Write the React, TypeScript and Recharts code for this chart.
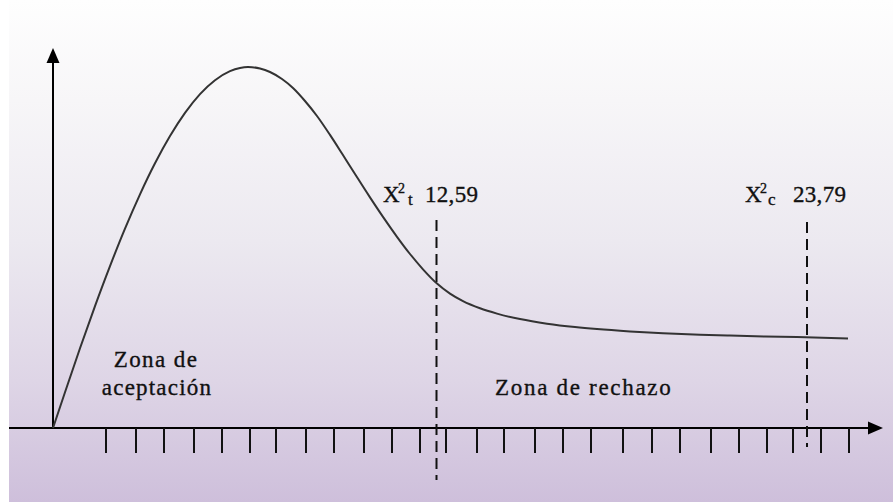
import React from 'react';
import { LineChart, Line, XAxis, YAxis, ReferenceLine, ReferenceDot } from 'recharts';

// Chi-square density sketch (schematic units)
const curveX = [0, 1.2, 2.7, 4.2, 5.7, 7.2, 8.7, 10.2, 11.7, 13.2, 14.7, 16.2, 17.7, 18.7, 19.5, 20.7, 21.7, 22.9, 24.0, 25.2, 26.4, 27.7, 28.9, 30.2, 31.7, 33.0, 34.4, 35.7, 37.0, 38.4, 39.7, 41.0, 42.7, 44.4, 46.7, 49.4, 52.2, 54.4, 57.7, 61.0, 64.7, 67.7, 71.2, 74.4, 79.5];
const curveY = [0, 3.58, 7.97, 12.19, 16.19, 19.94, 23.37, 26.47, 29.19, 31.51, 33.39, 34.78, 35.69, 36.01, 36.1, 35.95, 35.6, 34.9, 34.0, 32.7, 31.2, 29.31, 27.45, 25.4, 23.06, 21.11, 19.12, 17.4, 15.87, 14.44, 13.43, 12.68, 11.97, 11.44, 10.89, 10.43, 10.09, 9.89, 9.66, 9.48, 9.33, 9.24, 9.15, 9.09, 8.95];

// tick marks along the horizontal axis
const tickValues = [5.3, 8.3, 11.1, 14.1, 16.9, 19.7, 22.3, 25.3, 28.1, 31.1, 33.9, 36.7, 39.3, 42.4, 45.1, 48.2, 51.0, 53.8, 57.0, 59.9, 62.7, 65.8, 68.6, 71.4, 74.0, 76.8, 79.6];

// critical values
const criticalX = [38.35, 75.4];
const criticalSubs = ['t', 'c'];
const criticalValues = ['12,59', '23,79'];
const zoneLabels = ['Zona de', 'aceptación', 'Zona de rechazo'];

const data = curveX.map((x, i) => ({ x, y: curveY[i] }));

// layout (data units)
const X_DOMAIN: [number, number] = [-5.3, 84.0];
const Y_DOMAIN: [number, number] = [-7.4, 42.8];
const FONT = '"Liberation Serif", "Times New Roman", serif';

const arrowShape = (props: any) => {
  const { x1, y1, x2, y2 } = props;
  const dx = x2 - x1;
  const dy = y2 - y1;
  const len = Math.hypot(dx, dy) || 1;
  const ux = dx / len;
  const uy = dy / len;
  const L = 15;
  const W = 6.5;
  const bx = x2 - ux * L;
  const by = y2 - uy * L;
  const px = -uy;
  const py = ux;
  return (
    <g>
      <line x1={x1} y1={y1} x2={bx} y2={by} stroke="#000" strokeWidth={2} />
      <polygon
        points={`${x2},${y2} ${bx + px * W},${by + py * W} ${bx - px * W},${by - py * W}`}
        fill="#000"
      />
    </g>
  );
};

const textShape = (text: string, anchor: 'start' | 'middle', spacing: number) => (props: any) => (
  <text
    x={props.cx}
    y={props.cy}
    textAnchor={anchor}
    fontFamily={FONT}
    fontSize={23}
    letterSpacing={spacing}
    fill="#111"
    stroke="#111"
    strokeWidth={0.35}
  >
    {text}
  </text>
);

const chiLabel = (sub: string, value: string, subX: number, valX: number) => (props: any) => {
  const { cx, cy } = props;
  return (
    <text x={cx} y={cy} fontFamily={FONT} fill="#111" stroke="#111" strokeWidth={0.35} fontSize={23}>
      <tspan x={cx} y={cy}>X</tspan>
      <tspan x={cx + 15} y={cy - 9} fontSize={14}>2</tspan>
      <tspan x={cx + subX} y={cy + 3} fontSize={17}>{sub}</tspan>
      <tspan x={cx + valX} y={cy} letterSpacing={0.3}>{value}</tspan>
    </text>
  );
};

export default function App() {
  return (
    <div
      style={{
        position: 'absolute',
        left: 0,
        top: 0,
        width: 893,
        height: 502,
        background: '#ffffff',
      }}
    >
      <div
        style={{
          position: 'absolute',
          left: 9,
          top: 0,
          width: 884,
          height: 502,
          background: 'linear-gradient(to bottom, #fefefe 0%, #f7f6f8 20%, #ece9f0 48%, #ded5e6 76%, #cebfdb 100%)',
        }}
      />
      <div style={{ position: 'absolute', left: 0, top: 0 }}>
        <LineChart width={893} height={502} data={data} margin={{ top: 0, right: 0, bottom: 0, left: 0 }}>
          <XAxis type="number" dataKey="x" domain={X_DOMAIN} allowDataOverflow hide />
          <YAxis type="number" domain={Y_DOMAIN} allowDataOverflow hide />
          {/* axes */}
          <ReferenceLine segment={[{ x: -4.4, y: 0 }, { x: 83.0, y: 0 }]} shape={arrowShape} />
          <ReferenceLine segment={[{ x: 0, y: 0 }, { x: 0, y: 38.0 }]} shape={arrowShape} />
          {/* tick marks */}
          {tickValues.map((t) => (
            <ReferenceLine
              key={t}
              segment={[{ x: t, y: 0 }, { x: t, y: -2.5 }]}
              stroke="#111"
              strokeWidth={2}
            />
          ))}
          {/* critical value dashed lines */}
          <ReferenceLine
            segment={[{ x: criticalX[0], y: 20.8 }, { x: criticalX[0], y: -5.2 }]}
            stroke="#111"
            strokeWidth={2}
            strokeDasharray="11 6"
          />
          <ReferenceLine
            segment={[{ x: criticalX[1], y: 20.6 }, { x: criticalX[1], y: -1.9 }]}
            stroke="#111"
            strokeWidth={2}
            strokeDasharray="11 6"
          />
          <Line
            type="monotone"
            dataKey="y"
            stroke="#333"
            strokeWidth={2}
            dot={false}
            activeDot={false}
            isAnimationActive={false}
          />
          {/* labels */}
          <ReferenceDot x={33.0} y={22.6} r={0} shape={chiLabel(criticalSubs[0], criticalValues[0], 25, 42)} />
          <ReferenceDot x={69.2} y={22.6} r={0} shape={chiLabel(criticalSubs[1], criticalValues[1], 23, 48)} />
          <ReferenceDot x={10.3} y={6.1} r={0} shape={textShape(zoneLabels[0], 'middle', 1.4)} />
          <ReferenceDot x={10.4} y={3.3} r={0} shape={textShape(zoneLabels[1], 'middle', 1.2)} />
          <ReferenceDot x={44.2} y={3.3} r={0} shape={textShape(zoneLabels[2], 'start', 1.7)} />
        </LineChart>
      </div>
    </div>
  );
}
